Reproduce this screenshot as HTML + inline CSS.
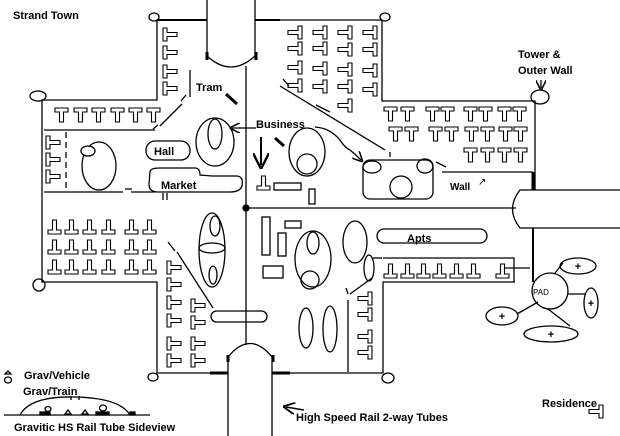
<!DOCTYPE html>
<html><head><meta charset="utf-8"><style>
html,body{margin:0;padding:0;background:#fff;}
svg{display:block;}
text{font-family:"Liberation Sans",sans-serif;font-weight:bold;font-size:11px;fill:#000;}
</style></head><body>
<svg width="620" height="436" viewBox="0 0 620 436" xmlns="http://www.w3.org/2000/svg">
<defs>
<path id="T" d="M0,0 h13 v4 h-4.5 v10 h-4 v-10 h-4.5 z" fill="none" stroke="#000" stroke-width="1.1"/>
<marker id="ah" markerWidth="8" markerHeight="8" refX="6" refY="4" orient="auto"><path d="M0,0 L8,4 L0,8" fill="none" stroke="#000" stroke-width="1.2"/></marker>
</defs>
<g fill="none" stroke="#000" stroke-width="1.3">
<polyline points="207,20 157,20 157,100 42,100 42,282 157,282 157,373 228,373"/>
<polyline points="255,20 382,20 382,101 535,101 535,190"/>
<polyline points="272,373 383,373 383,282 515,282"/>
<line x1="533" y1="172" x2="533" y2="190" stroke-width="3"/>
<line x1="442" y1="172" x2="533" y2="172"/>
<line x1="533" y1="228" x2="533" y2="282" stroke-width="2"/>
<line x1="157" y1="20" x2="207" y2="20" stroke-width="2"/>
<line x1="255" y1="20" x2="280" y2="20" stroke-width="2"/>
<line x1="210" y1="373" x2="228" y2="373" stroke-width="3"/>
<line x1="272" y1="373" x2="290" y2="373" stroke-width="3"/>
<ellipse cx="154" cy="17" rx="5" ry="4"/>
<ellipse cx="385" cy="17" rx="5" ry="4"/>
<ellipse cx="38" cy="96" rx="8" ry="5"/>
<ellipse cx="39" cy="285" rx="6" ry="6"/>
<ellipse cx="540" cy="97" rx="9" ry="7"/>
<ellipse cx="153" cy="377" rx="5" ry="4"/>
<ellipse cx="388" cy="378" rx="6" ry="5"/>
<path d="M207,0 V56 Q231,78 255,56 V0" fill="#fff"/>
<line x1="207" y1="52" x2="207" y2="60" stroke-width="3"/><line x1="256" y1="52" x2="256" y2="60" stroke-width="3"/>
<path d="M228,436 V357 Q250,330 272,357 V436" fill="#fff"/>
<line x1="228" y1="355" x2="228" y2="362" stroke-width="3"/><line x1="273" y1="355" x2="273" y2="362" stroke-width="3"/>
<path d="M620,190 H520 Q505,209 520,228 H620"/>
<line x1="246" y1="66" x2="246" y2="345"/>
<line x1="246" y1="208" x2="516" y2="208"/>
<circle cx="246" cy="208" r="3" fill="#000"/>
<line x1="44" y1="130" x2="155" y2="130"/>
<line x1="44" y1="192" x2="123" y2="192"/><line x1="131" y1="192" x2="155" y2="192"/>
<line x1="125" y1="189" x2="132" y2="189"/>
<line x1="66" y1="132" x2="66" y2="192" stroke-dasharray="6,4"/>
<line x1="163" y1="193" x2="163" y2="200"/><line x1="167" y1="193" x2="167" y2="200"/>
<line x1="190" y1="70" x2="190" y2="97"/>
<line x1="186" y1="95" x2="181" y2="101"/>
<line x1="182" y1="104" x2="160" y2="126"/>
<line x1="158" y1="125" x2="153" y2="129"/>
<line x1="283" y1="79" x2="289" y2="86"/>
<line x1="280" y1="86" x2="385" y2="150"/>
<line x1="316" y1="105" x2="330" y2="112"/>
<line x1="390" y1="152" x2="390" y2="157"/>
<line x1="436" y1="162" x2="446" y2="167"/>
<rect x="146" y="141" width="44" height="19" rx="9"/>
<path d="M150,172 Q150,168 160,168 H195 Q200,168 200,175 L212,176 H236 Q244,176 242,186 Q240,192 230,192 H158 Q149,192 149,184 Z"/>
<ellipse cx="99" cy="166" rx="17" ry="24"/>
<ellipse cx="88" cy="151" rx="7" ry="5" fill="#fff"/>
<ellipse cx="215" cy="142" rx="19" ry="24"/>
<ellipse cx="215" cy="134" rx="7" ry="15"/>
<ellipse cx="307" cy="152" rx="18" ry="24"/>
<circle cx="307" cy="164" r="10"/>
<rect x="274" y="183" width="27" height="7"/>
<rect x="309" y="189" width="6" height="15"/>
<rect x="363" y="160" width="70" height="39" rx="7"/>
<ellipse cx="372" cy="167" rx="9" ry="6"/>
<ellipse cx="425" cy="166" rx="8" ry="7"/>
<circle cx="401" cy="187" r="11"/>
<path d="M315,127 Q330,128 340,140 Q345,148 350,150 Q355,154 361,160" marker-end="url(#ah)"/>
<rect x="262" y="217" width="8" height="38"/>
<rect x="285" y="221" width="16" height="7"/>
<rect x="278" y="233" width="8" height="23"/>
<rect x="263" y="266" width="20" height="12"/>
<ellipse cx="313" cy="259" rx="18" ry="28"/>
<ellipse cx="313" cy="243" rx="6" ry="11"/>
<circle cx="310" cy="280" r="9"/>
<ellipse cx="355" cy="242" rx="12" ry="21"/>
<ellipse cx="369" cy="268" rx="5" ry="13"/>
<rect x="377" y="229" width="110" height="14" rx="7"/>
<line x1="373" y1="258" x2="382" y2="258"/>
<polyline points="383,258 514,258 514,282"/>
<line x1="505" y1="268" x2="530" y2="268"/>
<line x1="372" y1="278" x2="350" y2="294"/>
<line x1="346" y1="288" x2="348" y2="294"/>
<line x1="348" y1="300" x2="348" y2="372"/>
<ellipse cx="212" cy="250" rx="13" ry="37"/>
<ellipse cx="212" cy="248" rx="13" ry="5"/>
<ellipse cx="215" cy="226" rx="5" ry="10"/>
<ellipse cx="213" cy="275" rx="4" ry="9"/>
<line x1="168" y1="242" x2="175" y2="251"/>
<line x1="177" y1="252" x2="213" y2="308"/>
<rect x="211" y="311" width="56" height="11" rx="5.5"/>
<ellipse cx="306" cy="328" rx="7" ry="20"/>
<ellipse cx="330" cy="329" rx="7" ry="23"/>
<circle cx="550" cy="291" r="18"/>
<ellipse cx="578" cy="266" rx="18" ry="8"/>
<ellipse cx="591" cy="303" rx="7" ry="15"/>
<ellipse cx="502" cy="316" rx="16" ry="9"/>
<ellipse cx="551" cy="334" rx="27" ry="8"/>
<line x1="555" y1="273" x2="563" y2="263"/>
<line x1="568" y1="294" x2="585" y2="294"/>
<line x1="538" y1="302" x2="517" y2="314"/>
<line x1="548" y1="309" x2="570" y2="326"/>
<line x1="256" y1="128" x2="232" y2="128" marker-end="url(#ah)"/>
<line x1="261" y1="137" x2="261" y2="165" stroke-width="2" marker-end="url(#ah)"/>
<line x1="275" y1="138" x2="284" y2="146" stroke-width="3"/>
<line x1="226" y1="94" x2="237" y2="104" stroke-width="3"/>
<line x1="541" y1="80" x2="541" y2="88" marker-end="url(#ah)"/>
<line x1="304" y1="410" x2="286" y2="407" stroke-width="1.5" marker-end="url(#ah)"/>
<line x1="4" y1="415" x2="150" y2="415"/>
<path d="M20,415 Q30,396 75,397 Q120,398 130,415"/>
<line x1="71" y1="396" x2="71" y2="400"/><line x1="79" y1="396" x2="79" y2="400"/>
<rect x="40" y="412" width="10" height="3" fill="#000"/>
<rect x="96" y="412" width="13" height="3" fill="#000"/>
<rect x="130" y="412" width="5" height="3" fill="#000"/>
<ellipse cx="48" cy="409" rx="3" ry="2.5"/>
<ellipse cx="103" cy="408" rx="3.5" ry="3"/>
<path d="M65,414 l3,-4 l3,4 z"/><path d="M82,414 l3,-4 l3,4 z"/>
<path d="M5,374 l3,-3 l3,3 z"/>
<ellipse cx="8" cy="380" rx="3.5" ry="3"/>
</g>
<g>
<use href="#T" transform="translate(163,41) rotate(-90)"/>
<use href="#T" transform="translate(163,59) rotate(-90)"/>
<use href="#T" transform="translate(163,78) rotate(-90)"/>
<use href="#T" transform="translate(163,95) rotate(-90)"/>
<use href="#T" transform="translate(302,26) rotate(90)"/>
<use href="#T" transform="translate(302,42) rotate(90)"/>
<use href="#T" transform="translate(302,61) rotate(90)"/>
<use href="#T" transform="translate(302,79) rotate(90)"/>
<use href="#T" transform="translate(327,26) rotate(90)"/>
<use href="#T" transform="translate(327,42) rotate(90)"/>
<use href="#T" transform="translate(327,62) rotate(90)"/>
<use href="#T" transform="translate(327,80) rotate(90)"/>
<use href="#T" transform="translate(352,26) rotate(90)"/>
<use href="#T" transform="translate(352,43) rotate(90)"/>
<use href="#T" transform="translate(352,63) rotate(90)"/>
<use href="#T" transform="translate(352,80) rotate(90)"/>
<use href="#T" transform="translate(352,99) rotate(90)"/>
<use href="#T" transform="translate(377,26) rotate(90)"/>
<use href="#T" transform="translate(377,43) rotate(90)"/>
<use href="#T" transform="translate(377,64) rotate(90)"/>
<use href="#T" transform="translate(377,83) rotate(90)"/>
<use href="#T" x="55" y="108"/><use href="#T" x="74" y="108"/><use href="#T" x="92" y="108"/>
<use href="#T" x="111" y="108"/><use href="#T" x="129" y="108"/><use href="#T" x="147" y="108"/>
<use href="#T" transform="translate(46,149) rotate(-90)"/>
<use href="#T" transform="translate(46,166) rotate(-90)"/>
<use href="#T" transform="translate(46,183) rotate(-90)"/>
<use href="#T" transform="translate(61,234) rotate(180)"/><use href="#T" transform="translate(78,234) rotate(180)"/><use href="#T" transform="translate(96,234) rotate(180)"/><use href="#T" transform="translate(115,234) rotate(180)"/><use href="#T" transform="translate(138,234) rotate(180)"/><use href="#T" transform="translate(156,234) rotate(180)"/>
<use href="#T" transform="translate(61,254) rotate(180)"/><use href="#T" transform="translate(78,254) rotate(180)"/><use href="#T" transform="translate(96,254) rotate(180)"/><use href="#T" transform="translate(115,254) rotate(180)"/><use href="#T" transform="translate(138,254) rotate(180)"/><use href="#T" transform="translate(156,254) rotate(180)"/>
<use href="#T" transform="translate(61,274) rotate(180)"/><use href="#T" transform="translate(78,274) rotate(180)"/><use href="#T" transform="translate(96,274) rotate(180)"/><use href="#T" transform="translate(115,274) rotate(180)"/><use href="#T" transform="translate(138,274) rotate(180)"/><use href="#T" transform="translate(156,274) rotate(180)"/>
<use href="#T" transform="translate(167,274) rotate(-90)"/>
<use href="#T" transform="translate(167,291) rotate(-90)"/>
<use href="#T" transform="translate(167,309) rotate(-90)"/>
<use href="#T" transform="translate(167,327) rotate(-90)"/>
<use href="#T" transform="translate(167,350) rotate(-90)"/>
<use href="#T" transform="translate(167,367) rotate(-90)"/>
<use href="#T" transform="translate(191,312) rotate(-90)"/>
<use href="#T" transform="translate(191,329) rotate(-90)"/>
<use href="#T" transform="translate(191,350) rotate(-90)"/>
<use href="#T" transform="translate(191,367) rotate(-90)"/>
<use href="#T" transform="translate(372,292) rotate(90)"/>
<use href="#T" transform="translate(372,308) rotate(90)"/>
<use href="#T" transform="translate(372,330) rotate(90)"/>
<use href="#T" transform="translate(372,346) rotate(90)"/>
<use href="#T" transform="translate(397,278) rotate(180)"/><use href="#T" transform="translate(414,278) rotate(180)"/><use href="#T" transform="translate(430,278) rotate(180)"/><use href="#T" transform="translate(446,278) rotate(180)"/><use href="#T" transform="translate(463,278) rotate(180)"/><use href="#T" transform="translate(480,278) rotate(180)"/><use href="#T" transform="translate(509,278) rotate(180)"/>
<use href="#T" transform="translate(270,190) rotate(180)"/>
<use href="#T" x="384" y="107"/><use href="#T" x="401" y="107"/><use href="#T" x="426" y="107"/><use href="#T" x="441" y="107"/><use href="#T" x="464" y="107"/><use href="#T" x="479" y="107"/><use href="#T" x="498" y="107"/><use href="#T" x="513" y="107"/>
<use href="#T" x="389" y="127"/><use href="#T" x="405" y="127"/><use href="#T" x="429" y="127"/><use href="#T" x="445" y="127"/><use href="#T" x="465" y="127"/><use href="#T" x="481" y="127"/><use href="#T" x="499" y="127"/><use href="#T" x="514" y="127"/>
<use href="#T" x="464" y="148"/><use href="#T" x="481" y="148"/><use href="#T" x="498" y="148"/><use href="#T" x="514" y="148"/>
<use href="#T" transform="translate(603,405) rotate(90)"/>
</g>
<text x="13" y="19">Strand Town</text>
<text x="196" y="91">Tram</text>
<text x="256" y="128">Business</text>
<text x="154" y="155">Hall</text>
<text x="161" y="189">Market</text>
<text x="518" y="58">Tower &amp;</text>
<text x="518" y="74">Outer Wall</text>
<text x="450" y="190" style="font-size:10px">Wall</text>
<text x="478" y="185" style="font-size:10px;font-weight:normal">↗</text>
<text x="407" y="242">Apts</text>
<text x="533" y="295" style="font-size:8px;font-weight:normal">PAD</text>
<g style="font-size:11px;font-weight:normal" text-anchor="middle">
<text x="578" y="270">+</text><text x="591" y="307">+</text><text x="502" y="320">+</text><text x="551" y="338">+</text>
</g>
<text x="24" y="379">Grav/Vehicle</text>
<text x="23" y="395">Grav/Train</text>
<text x="14" y="431">Gravitic HS Rail Tube Sideview</text>
<text x="296" y="421">High Speed Rail 2-way Tubes</text>
<text x="542" y="407">Residence</text>
</svg>
</body></html>
